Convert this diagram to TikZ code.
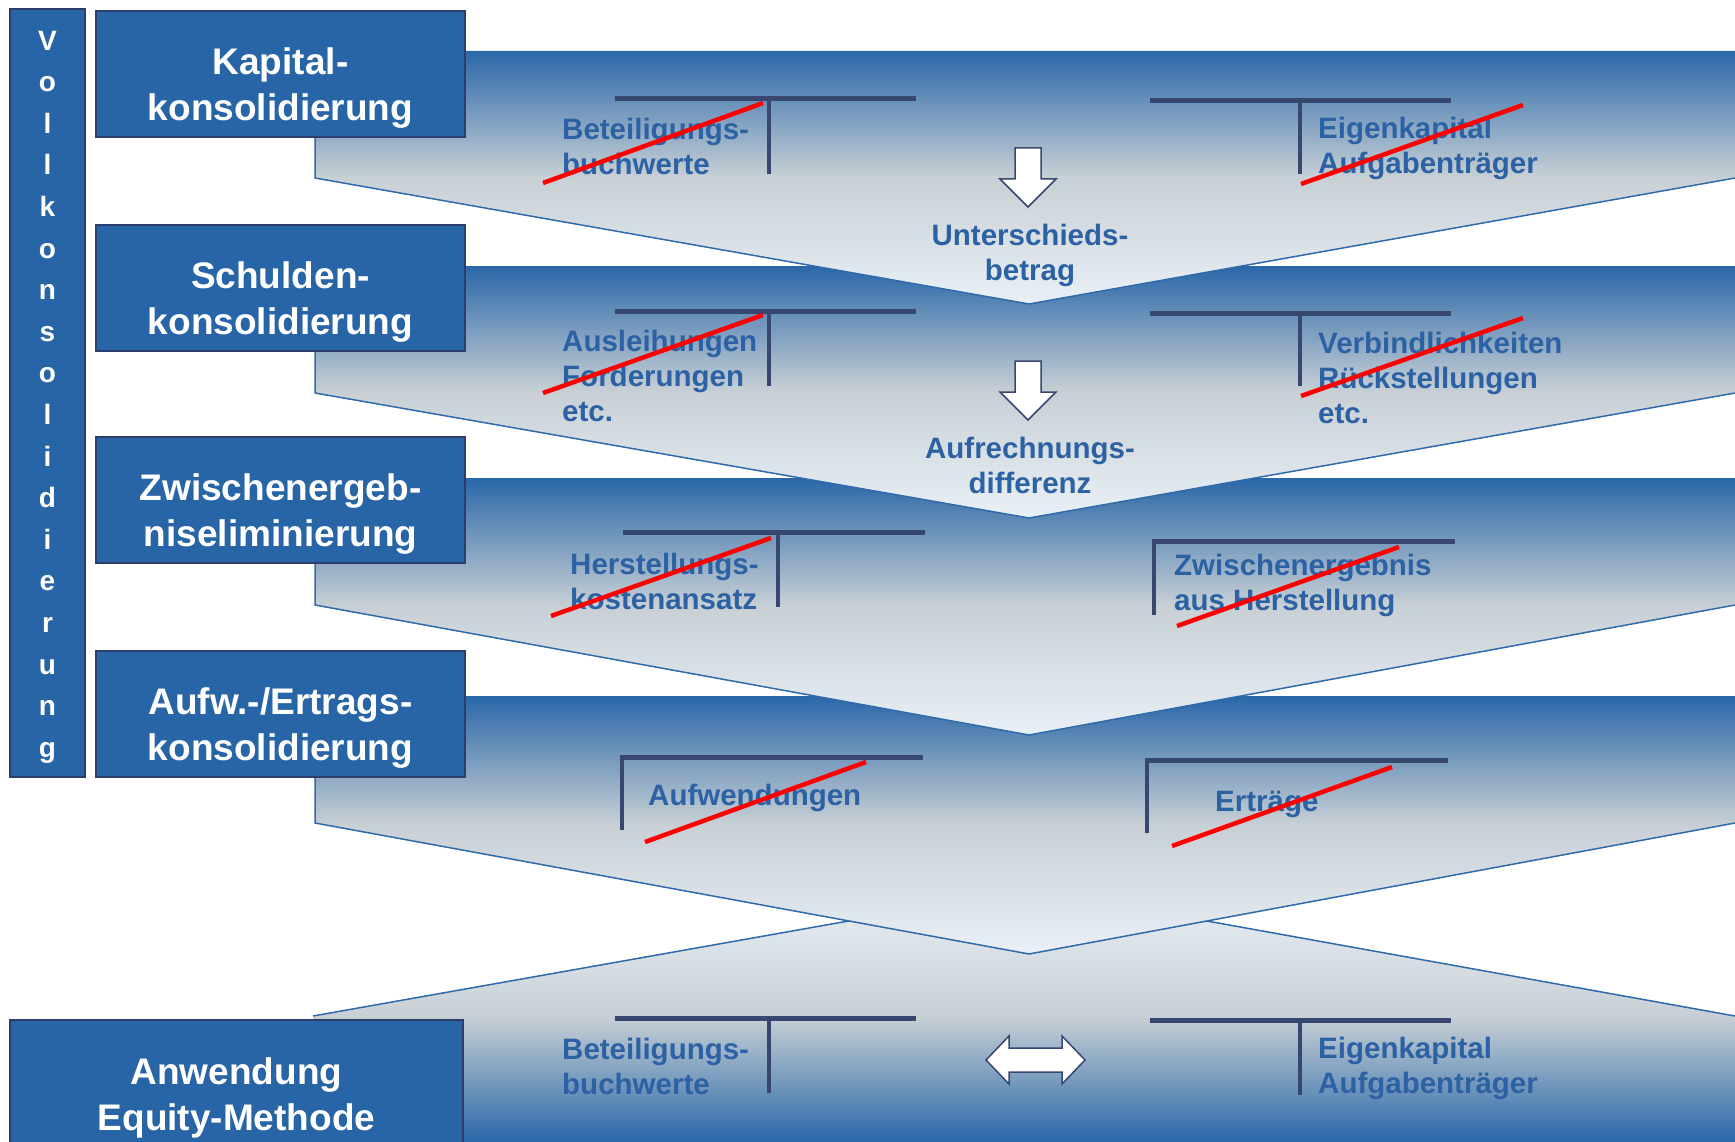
\documentclass[tikz,border=0pt]{standalone}
\usepackage{fontspec}
\setmainfont{Liberation Sans}
\definecolor{boxblue}{RGB}{40,101,166}
\definecolor{boxedge}{RGB}{45,62,110}
\definecolor{bandblue}{RGB}{42,103,168}
\definecolor{bandgray}{RGB}{200,208,213}
\definecolor{bandlight}{RGB}{233,241,246}
\definecolor{bandedge}{RGB}{46,106,172}
\definecolor{txtblue}{RGB}{44,97,164}
\definecolor{tline}{RGB}{56,71,112}
\pgfdeclareverticalshading{banddown}{100bp}{color(0bp)=(bandlight); color(25bp)=(bandlight); color(50bp)=(bandgray); color(75bp)=(bandblue); color(100bp)=(bandblue)}
\pgfdeclareverticalshading{bandup}{100bp}{color(0bp)=(bandblue); color(25bp)=(bandblue); color(50bp)=(bandgray); color(75bp)=(bandlight); color(100bp)=(bandlight)}
\begin{document}
\begin{tikzpicture}[x=1pt,y=-1pt,
  box/.style={draw=boxedge, fill=boxblue, line width=1.2pt, inner sep=0pt},
  boxtext/.style={text=white, font=\bfseries\fontsize{37}{46}\selectfont, align=center, inner sep=0pt},
  bandline/.style={draw=bandedge, line width=1.5pt},
  hline/.style={draw=tline, line width=5pt},
  vline/.style={draw=tline, line width=3.5pt},
  strike/.style={draw=red, line width=4.5pt},
  lbl/.style={text=txtblue, font=\bfseries\fontsize{29.5}{35}\selectfont, align=left, inner sep=0pt, anchor=west},
  mid/.style={text=txtblue, font=\bfseries\fontsize{29.5}{35}\selectfont, align=center, inner sep=0pt},
  blockarrow/.style={draw=tline, fill=white, line width=1.5pt, line join=miter}
]
\useasboundingbox (0,0) rectangle (1735,1142);
% band 5 (Equity)
\shade[shading=bandup] (313,1016) -- (1029,889) -- (1735,1016) -- (1735,1142) -- (313,1142) -- cycle;
\draw[bandline] (313,1016) -- (1029,889) -- (1735,1016);
% bands 4..1
\foreach \T/\P in {696/954, 478/735, 266/518, 51/304}{
  \shade[shading=banddown] (315,\T) -- (1735,\T) -- (1735,\T+127) -- (1029,\P) -- (315,\T+127) -- cycle;
  \draw[bandline] (315,\T) -- (315,\T+127) -- (1029,\P) -- (1735,\T+127);
}
% ---- band 1 contents
\draw[hline] (615,98.5) -- (916,98.5);
\draw[vline] (769,98.5) -- (769,174);
\node[lbl] (beta) at (562,146.5) {Beteiligungs-\\buchwerte};
\draw[strike] (543,183) -- (763,103);
\draw[hline] (1150,101) -- (1451,101);
\draw[vline] (1300,101) -- (1300,174);
\node[lbl] (eka) at (1318,148.5) {Eigenkapital\\Aufgabenträger};
\draw[strike] (1301,184) -- (1523,105);
\draw[blockarrow] (1015,148) -- (1041,148) -- (1041,179) -- (1056,179) -- (1028,207) -- (1000,179) -- (1015,179) -- cycle;
\node[mid] (ub) at (1030,255.5) {Unterschieds-\\betrag};
% ---- band 2 contents
\draw[hline] (615,311) -- (916,311);
\draw[vline] (769,311) -- (769,386);
\node[lbl] (aus) at (562,376) {Ausleihungen\\Forderungen\\etc.};
\draw[strike] (543,393) -- (763,315);
\draw[hline] (1150,313) -- (1451,313);
\draw[vline] (1300,313) -- (1300,386);
\node[lbl] (verb) at (1318,378) {Verbindlichkeiten\\Rückstellungen\\etc.};
\draw[strike] (1301,396) -- (1523,318);
\draw[blockarrow] (1015,361) -- (1041,361) -- (1041,392) -- (1056,392) -- (1028,420) -- (1000,392) -- (1015,392) -- cycle;
\node[mid] (ad) at (1030,465) {Aufrechnungs-\\differenz};
% ---- band 3 contents
\draw[hline] (623,532) -- (925,532);
\draw[vline] (778,532) -- (778,607);
\node[lbl] (hk) at (570,581) {Herstellungs-\\kostenansatz};
\draw[strike] (551,616) -- (771,538);
\draw[hline] (1152,541) -- (1455,541);
\draw[vline] (1154,539) -- (1154,615);
\node[lbl] (ze) at (1174,585.5) {Zwischenergebnis\\aus Herstellung};
\draw[strike] (1177,626) -- (1399,547);
% ---- band 4 contents
\draw[hline] (620,757) -- (923,757);
\draw[vline] (622,755) -- (622,830);
\node[lbl] (aufw) at (648,798) {Aufwendungen};
\draw[strike] (645,842) -- (866,762);
\draw[hline] (1145,760) -- (1448,760);
\draw[vline] (1147,758) -- (1147,833);
\node[lbl] (ertr) at (1215,804) {Erträge};
\draw[strike] (1172,846) -- (1392,767);
% ---- band 5 contents
\draw[hline] (615,1018) -- (916,1018);
\draw[vline] (769,1018) -- (769,1093);
\node[lbl] (betb) at (562,1066) {Beteiligungs-\\buchwerte};
\draw[blockarrow] (986,1060) -- (1009,1036) -- (1009,1048) -- (1062,1048) -- (1062,1036) -- (1085,1060) -- (1062,1084) -- (1062,1072) -- (1009,1072) -- (1009,1084) -- cycle;
\draw[hline] (1150,1020) -- (1451,1020);
\draw[vline] (1300,1020) -- (1300,1095);
\node[lbl] (ekb) at (1318,1068) {Eigenkapital\\Aufgabenträger};
% ---- left boxes
\node[box, minimum width=75pt, minimum height=768pt] (voll) at (47.5,393) {};
\node[boxtext, font=\bfseries\fontsize{28}{41.6}\selectfont] (volltxt) at (47.5,397) {V\\o\\l\\l\\k\\o\\n\\s\\o\\l\\i\\d\\i\\e\\r\\u\\n\\g};
\node[box, minimum width=369pt, minimum height=126pt] (b1) at (280.5,74) {};
\node[boxtext] (t1) at (280.5,88.5) {Kapital-\\konsolidierung};
\node[box, minimum width=369pt, minimum height=126pt] (b2) at (280.5,288) {};
\node[boxtext] (t2) at (280.5,302.5) {Schulden-\\konsolidierung};
\node[box, minimum width=369pt, minimum height=126pt] (b3) at (280.5,500) {};
\node[boxtext] (t3) at (280.5,514.5) {Zwischenergeb-\\niseliminierung};
\node[box, minimum width=369pt, minimum height=126pt] (b4) at (280.5,714) {};
\node[boxtext] (t4) at (280.5,728.5) {Aufw.-/Ertrags-\\konsolidierung};
\node[box, minimum width=453pt, minimum height=140pt] (b5) at (236.5,1090) {};
\node[boxtext] (t5) at (236.5,1098) {Anwendung\\Equity-Methode};
\end{tikzpicture}
\end{document}
